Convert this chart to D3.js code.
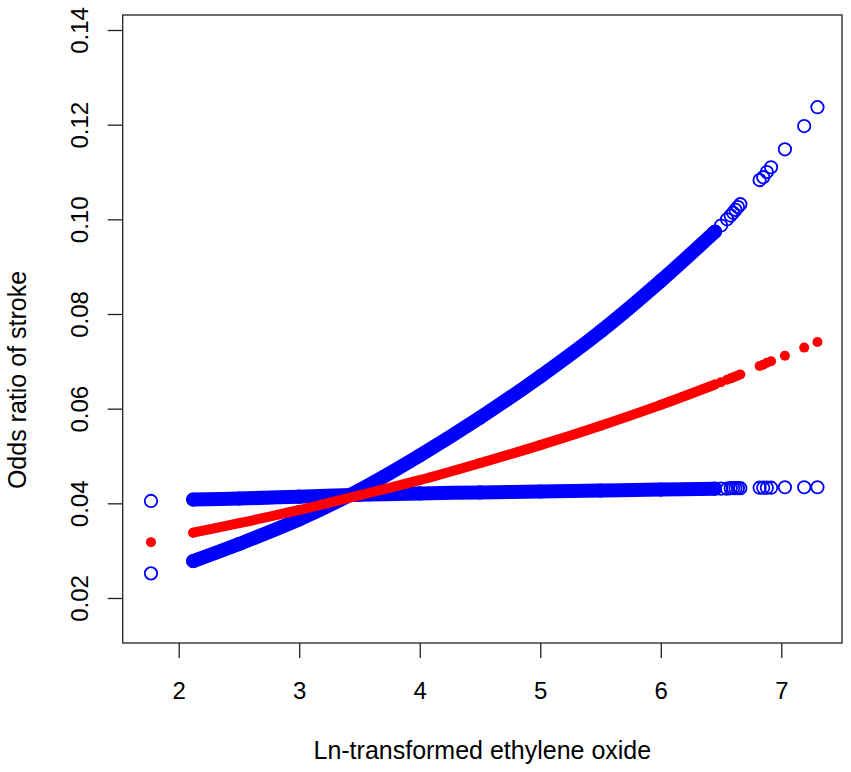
<!DOCTYPE html>
<html>
<head>
<meta charset="utf-8">
<title>Odds ratio of stroke</title>
<script src="https://cdn.jsdelivr.net/npm/d3@7"></script>
<style>
  body { margin: 0; background: #fff; }
  svg text { font-family: "Liberation Sans", Arial, Helvetica, sans-serif; fill: #000; }
</style>
</head>
<body>
<div id="chart"></div>
<script>
// observed exposure values (ln-transformed ethylene oxide)
var xObs = [1.77, 2.12, 2.5, 3.0, 3.5, 4.0, 4.5, 5.0, 5.5, 6.0, 6.45,
            6.5, 6.55, 6.58, 6.6, 6.62, 6.64, 6.66,
            6.82, 6.85, 6.88, 6.915, 7.03, 7.19, 7.3];
// estimated odds ratio (red)
var orEst = [0.0318, 0.0338, 0.0358, 0.0386, 0.0417, 0.0449, 0.0485, 0.0523, 0.0564, 0.0608, 0.0651,
             0.0656, 0.0661, 0.0664, 0.0666, 0.0668, 0.0670, 0.0672,
             0.0690, 0.0693, 0.0697, 0.0700, 0.0712, 0.0729, 0.0741];
// confidence bound that rises steeply (blue)
var ciSteep = [0.0252, 0.0278, 0.0314, 0.0366, 0.0428, 0.0501, 0.0581, 0.0668, 0.0763, 0.0870, 0.0974,
               0.0987, 0.1000, 0.1008, 0.1014, 0.1020, 0.1026, 0.1032,
               0.1083, 0.1089, 0.1100, 0.1110, 0.1148, 0.1197, 0.1237];
// confidence bound that stays almost flat (blue)
var ciFlat = [0.0405, 0.0408, 0.0410, 0.0414, 0.0418, 0.0421, 0.0423, 0.0425, 0.0427, 0.0429, 0.0431,
              0.0431, 0.0431, 0.0432, 0.0432, 0.0432, 0.0432, 0.0432,
              0.0433, 0.0433, 0.0433, 0.0433, 0.0434, 0.0434, 0.0434];

var xTicks = [2, 3, 4, 5, 6, 7];
var yTicks = [0.02, 0.04, 0.06, 0.08, 0.10, 0.12, 0.14];

// range where observations are so dense they form a solid band
var denseFrom = 2.12, denseTo = 6.45;

(function(d3){

    var W = 851, H = 772;
    var left = 122.7, right = 842, top = 15, bottom = 643;

    var svg = d3.select("#chart").append("svg")
            .attr("width", W)
            .attr("height", H);

    var x = d3.scaleLinear().domain([1.5353, 7.5036]).range([left, right]);
    var y = d3.scaleLinear().domain([0.01049, 0.14317]).range([bottom, top]);

    var rows = xObs.map(function(v, i){
        return {x: v, est: orEst[i], hi: ciSteep[i], lo: ciFlat[i]};
    });
    var dense = rows.filter(function(d){ return d.x >= denseFrom && d.x <= denseTo; });

    var plot = svg.append("g");

    function band(key, color, width){
        var line = d3.line()
                .x(function(d){ return x(d.x); })
                .y(function(d){ return y(d[key]); })
                .curve(d3.curveCatmullRom);
        plot.append("path")
                .datum(dense)
                .attr("d", line)
                .attr("fill", "none")
                .attr("stroke", color)
                .attr("stroke-width", width)
                .attr("stroke-linecap", "round")
                .attr("stroke-linejoin", "round");
    }

    function openPoints(key){
        plot.selectAll(null)
                .data(rows)
                .enter().append("circle")
                .attr("cx", function(d){ return x(d.x); })
                .attr("cy", function(d){ return y(d[key]); })
                .attr("r", 6.2)
                .attr("fill", "none")
                .attr("stroke", "#0000ff")
                .attr("stroke-width", 1.8);
    }

    band("lo", "#0000ff", 14);
    openPoints("lo");
    band("hi", "#0000ff", 14);
    openPoints("hi");

    band("est", "#ff0000", 10);
    plot.selectAll(null)
            .data(rows)
            .enter().append("circle")
            .attr("cx", function(d){ return x(d.x); })
            .attr("cy", function(d){ return y(d.est); })
            .attr("r", 5)
            .attr("fill", "#ff0000");

    // axes, R style (outward ticks, rotated y labels)
    var xAxis = svg.append("g")
            .attr("transform", "translate(0," + bottom + ")")
            .call(d3.axisBottom(x).tickValues(xTicks).tickSize(15).tickSizeOuter(0)
                    .tickFormat(d3.format("d")));
    xAxis.select(".domain").remove();
    xAxis.selectAll("line").attr("stroke", "#222").attr("stroke-width", 1.3);
    xAxis.selectAll("text")
            .attr("y", 56)
            .attr("dy", 0)
            .style("font-size", "24px");

    var yAxis = svg.append("g")
            .attr("transform", "translate(" + left + ",0)")
            .call(d3.axisLeft(y).tickValues(yTicks).tickSize(15).tickSizeOuter(0)
                    .tickFormat(d3.format(".2f")));
    yAxis.select(".domain").remove();
    yAxis.selectAll("line").attr("stroke", "#222").attr("stroke-width", 1.3);
    yAxis.selectAll("text")
            .attr("x", 0)
            .attr("y", 0)
            .attr("dy", 0)
            .attr("text-anchor", "middle")
            .attr("transform", "translate(-34.7,0) rotate(-90)")
            .style("font-size", "24px");

    svg.selectAll(".tick text").attr("fill", "#000");

    // box
    svg.append("rect")
            .attr("x", left)
            .attr("y", top)
            .attr("width", right - left)
            .attr("height", bottom - top)
            .attr("fill", "none")
            .attr("stroke", "#222")
            .attr("stroke-width", 1.3);

    svg.append("text")
            .attr("x", (left + right) / 2)
            .attr("y", 759)
            .attr("text-anchor", "middle")
            .style("font-size", "25px")
            .text("Ln-transformed ethylene oxide");

    svg.append("text")
            .attr("transform", "translate(26,380) rotate(-90)")
            .attr("text-anchor", "middle")
            .style("font-size", "25px")
            .text("Odds ratio of stroke");

})(d3);
</script>
</body>
</html>
